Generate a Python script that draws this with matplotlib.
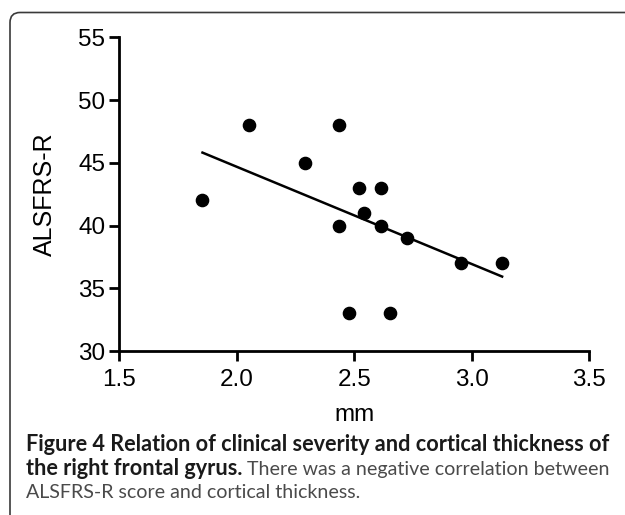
import numpy as np
import matplotlib.pyplot as plt
from matplotlib.patches import FancyBboxPatch
from matplotlib.transforms import IdentityTransform

# Espessura cortical (mm) e escore ALSFRS-R
espessura = [1.854, 2.054, 2.434, 2.290, 2.520, 2.612, 2.542, 2.436, 2.612, 2.724, 2.954, 3.129, 2.478, 2.654]
alsfrs = [42, 48, 48, 45, 43, 43, 41, 40, 40, 39, 37, 37, 33, 33]

xticks = [1.5, 2.0, 2.5, 3.0, 3.5]
yticks = [30, 35, 40, 45, 50, 55]

legenda_l1 = 'Figure 4 Relation of clinical severity and cortical thickness of'
legenda_l2_bold = 'the right frontal gyrus.'
legenda_l2 = ' There was a negative correlation between'
legenda_l3 = 'ALSFRS-R score and cortical thickness.'

W, H = 625, 515
fig = plt.figure(figsize=(W / 100, H / 100), dpi=100)

# moldura arredondada (cortada à direita e embaixo), em pixels
moldura = FancyBboxPatch((10, -300), 2000, H - 12.5 + 300,
                         boxstyle='round,pad=0,rounding_size=10',
                         transform=IdentityTransform(), fill=False,
                         edgecolor='#3a3a3a', linewidth=1.2)
fig.patches.append(moldura)

ax = fig.add_axes([119.3 / W, 1 - 351 / H, (589.3 - 119.3) / W, (351 - 37.3) / H])

ax.plot(espessura, alsfrs, 'o', color='black', markersize=8.8, clip_on=False)

# ajuste linear
a, b = np.polyfit(espessura, alsfrs, 1)
xs = np.array([min(espessura), max(espessura)])
ax.plot(xs, a * xs + b, '-', color='black', linewidth=1.8)

ax.set_xlim(1.5, 3.5)
ax.set_ylim(30, 55)
ax.set_xticks(xticks)
ax.set_yticks(yticks)
ax.set_xticklabels([f'{t:.1f}' for t in xticks])
for s in ['top', 'right']:
    ax.spines[s].set_visible(False)
for s in ['left', 'bottom']:
    ax.spines[s].set_linewidth(2.0)
ax.tick_params(direction='out', length=7, width=2.0, labelsize=17.5, pad=3,
               labelfontfamily='Liberation Sans')
ax.tick_params(axis='x', pad=6)
ax.set_xlabel('mm', fontsize=17.5, family='Liberation Sans', labelpad=9)
ax.set_ylabel('ALSFRS-R', fontsize=18, family='Liberation Sans', labelpad=15)

# legenda da figura
fonte = 'Lato'
x0 = 26 / W
r = fig.canvas.get_renderer()

t1 = fig.text(x0, 1 - 451 / H, legenda_l1, family=fonte, weight='bold',
              fontsize=12, color='#1a1a1a', va='baseline')
tam_b = 12 * 579 / t1.get_window_extent(r).width
t1.set_fontsize(tam_b)

t3 = fig.text(x0, 1 - 498 / H, legenda_l3, family=fonte, fontsize=12,
              color='#4a4a4a', va='baseline')
tam_r = 12 * 332 / t3.get_window_extent(r).width
t3.set_fontsize(tam_r)

t2 = fig.text(x0, 1 - 475 / H, legenda_l2_bold, family=fonte, weight='bold',
              fontsize=tam_b, color='#1a1a1a', va='baseline')
fim = t2.get_window_extent(r).x1
fig.text(fim / W, 1 - 475 / H, legenda_l2, family=fonte, fontsize=tam_r,
         color='#4a4a4a', va='baseline')

fig.savefig('out.png', dpi=100)
